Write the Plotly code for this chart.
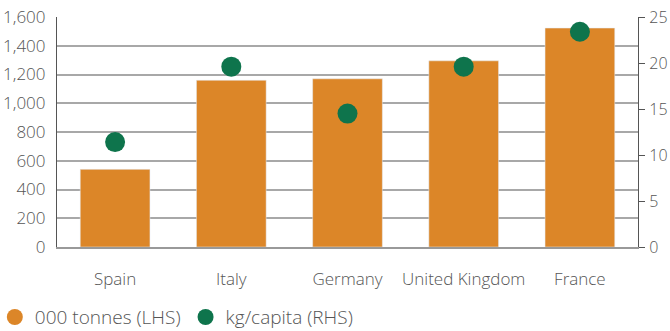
import plotly.graph_objects as go

countries = ["Spain", "Italy", "Germany", "United Kingdom", "France"]
tonnes_000 = [540, 1160, 1170, 1295, 1523]
kg_per_capita = [11.4, 19.6, 14.5, 19.6, 23.4]

ORANGE = "#DC8628"
GREEN = "#0E744C"
TEXT = "#555555"
FONT = "Open Sans"
TICK_FONT = dict(family=FONT, size=17, color=TEXT, weight=300)

fig = go.Figure()

fig.add_trace(go.Bar(
    x=countries, y=tonnes_000, marker_color=ORANGE, width=0.6,
    showlegend=False, yaxis="y",
))
fig.add_trace(go.Scatter(
    x=countries, y=kg_per_capita, mode="markers",
    marker=dict(color=GREEN, size=20), showlegend=False, yaxis="y2",
))

# legend entries with round swatches
fig.add_trace(go.Scatter(
    x=[None], y=[None], mode="markers", name="000 tonnes (LHS)",
    marker=dict(color=ORANGE, size=16),
))
fig.add_trace(go.Scatter(
    x=[None], y=[None], mode="markers", name="kg/capita (RHS)",
    marker=dict(color=GREEN, size=16),
))

fig.update_layout(
    width=670, height=331,
    margin=dict(l=57, r=32, t=17, b=84, autoexpand=False),
    paper_bgcolor="white", plot_bgcolor="white",
    font=dict(family=FONT, size=17, color=TEXT),
    xaxis=dict(
        showgrid=False, showline=True, linecolor="#999999", linewidth=1.5,
        ticks="", tickfont=TICK_FONT, ticklabelstandoff=16,
    ),
    yaxis=dict(
        range=[0, 1600], dtick=200, tickformat=",",
        showgrid=True, gridcolor="#a8a8a8", gridwidth=1.5,
        showline=True, linecolor="#555555", linewidth=1.2,
        ticks="", tickfont=TICK_FONT, zeroline=False,
        ticklabelstandoff=7,
    ),
    yaxis2=dict(
        overlaying="y", side="right", range=[0, 25], dtick=5,
        showgrid=False, showline=True, linecolor="#555555", linewidth=1.2,
        ticks="outside", ticklen=6, tickcolor="#555555",
        tickfont=dict(family=FONT, size=16, color=TEXT, weight=300),
        zeroline=False, ticklabelstandoff=1,
    ),
    legend=dict(
        orientation="h", xref="paper", x=-0.107, xanchor="left",
        yref="paper", y=-0.305, yanchor="middle",
        font=dict(family=FONT, size=19, color=TEXT, weight=300), itemwidth=30,
        tracegroupgap=0, bgcolor="rgba(0,0,0,0)",
    ),
)

fig.write_html("out.html")
